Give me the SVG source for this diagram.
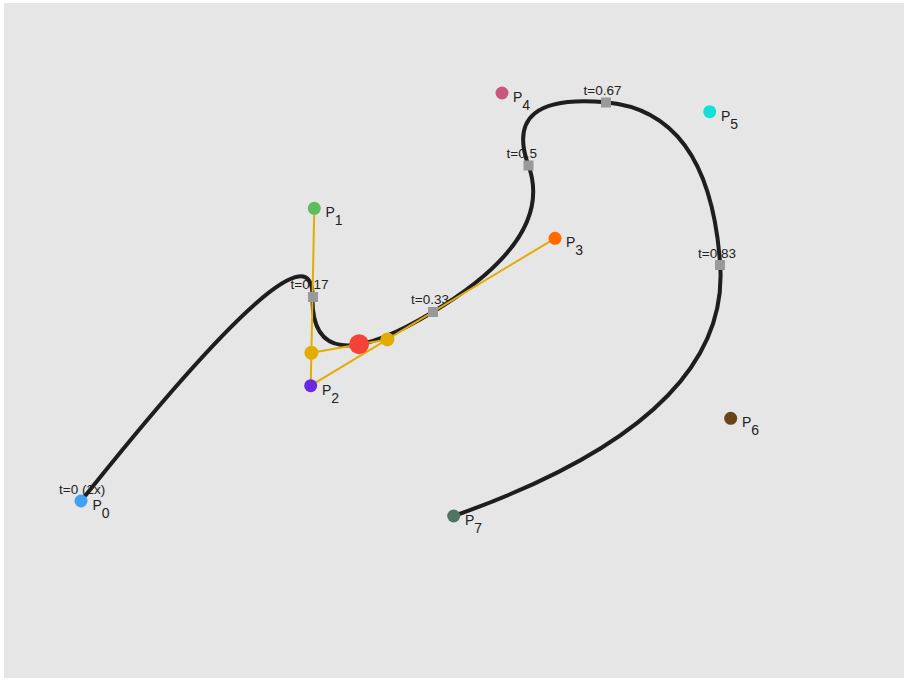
<svg xmlns="http://www.w3.org/2000/svg" width="911" height="680" viewBox="0 0 911 680">
<style>
.knot{font-family:"Liberation Sans",Arial,sans-serif;font-size:13.5px;fill:#222}
.lbl{font-family:"Liberation Sans",Arial,sans-serif;font-size:14px;fill:#222}
.curve{fill:none;stroke:#1e1e1e;stroke-width:4;stroke-linecap:round}
.aux{fill:none;stroke:#e3ac00;stroke-width:2}
.sq{fill:#999999}
.ctl{stroke:none}
</style>
<rect x="0" y="0" width="911" height="680" fill="#ffffff"/>
<rect x="4" y="3" width="900" height="675" fill="#e6e6e6"/>
<g id="knot-labels">
<text class="knot" x="59" y="494">t=0 (2x)</text>
<text class="knot" x="290.5" y="289">t=0.17</text>
<text class="knot" x="411" y="304">t=0.33</text>
<text class="knot" x="506.5" y="158">t=0.5</text>
<text class="knot" x="583.5" y="95">t=0.67</text>
<text class="knot" x="698" y="257.5">t=0.83</text>
</g>
<g id="connectors">
<path id="curve" class="curve" d="M81,501 Q314.3,208.3 312.5,297 Q310.7,385.7 432.85,312 Q555,238.3 528.5,165.65 Q502,93 605.85,102.35 Q709.7,111.7 720.2,265 Q730.7,418.3 453.7,516"/>
<line class="aux" x1="314.3" y1="208.3" x2="310.7" y2="385.7"/>
<line class="aux" x1="310.7" y1="385.7" x2="555" y2="238.3"/>
<line class="aux" x1="311.4" y1="352.7" x2="387.4" y2="339.4"/>
</g>
<g id="knots">
<rect class="sq" x="308" y="292" width="10" height="10"/>
<rect class="sq" x="428" y="307" width="10" height="10"/>
<rect class="sq" x="523.5" y="160.5" width="10" height="10"/>
<rect class="sq" x="601" y="97.5" width="10" height="10"/>
<rect class="sq" x="715" y="260" width="10" height="10"/>
</g>
<g id="P0"><circle class="ctl" cx="81" cy="501" r="6.5" fill="#42a2f2"/><text class="lbl" x="92.5" y="510">P<tspan dy="8">0</tspan></text></g>
<g id="P1"><circle class="ctl" cx="314.3" cy="208.3" r="6.5" fill="#5cbd5c"/><text class="lbl" x="325.5" y="217.3">P<tspan dy="8">1</tspan></text></g>
<g id="P2"><circle class="ctl" cx="310.7" cy="385.7" r="6.5" fill="#6a2ae2"/><text class="lbl" x="322" y="394.7">P<tspan dy="8">2</tspan></text></g>
<g id="P3"><circle class="ctl" cx="555" cy="238.3" r="6.5" fill="#ff6a00"/><text class="lbl" x="566" y="247.3">P<tspan dy="8">3</tspan></text></g>
<g id="P4"><circle class="ctl" cx="502" cy="93" r="6.5" fill="#c8587f"/><text class="lbl" x="513" y="102">P<tspan dy="8">4</tspan></text></g>
<g id="P5"><circle class="ctl" cx="709.7" cy="111.7" r="6.5" fill="#14e0da"/><text class="lbl" x="721" y="120.7">P<tspan dy="8">5</tspan></text></g>
<g id="P6"><circle class="ctl" cx="730.7" cy="418.3" r="6.5" fill="#6b4219"/><text class="lbl" x="742" y="427.3">P<tspan dy="8">6</tspan></text></g>
<g id="P7"><circle class="ctl" cx="453.7" cy="516" r="6.5" fill="#507565"/><text class="lbl" x="465" y="525">P<tspan dy="8">7</tspan></text></g>
<g id="deboor">
<circle cx="311.4" cy="352.7" r="7" fill="#e3ac00"/>
<circle cx="387.4" cy="339.4" r="7" fill="#e3ac00"/>
<circle cx="359.1" cy="344.3" r="10" fill="#f44336"/>
</g>
</svg>
